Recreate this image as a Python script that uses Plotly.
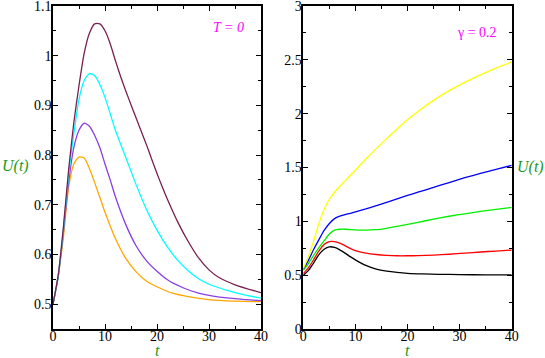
import plotly.graph_objects as go
from plotly.subplots import make_subplots

# ── Left panel (T = 0) ────────────────────────────────────────────────────────
t_orange = [0, 1, 2, 3, 4, 5, 6, 7, 8, 9, 10, 12, 14, 16, 18, 20, 23, 26, 30, 35, 40]
u_orange = [0.5, 0.555, 0.635, 0.735, 0.782, 0.796, 0.794, 0.773, 0.745, 0.715,
            0.685, 0.632, 0.592, 0.565, 0.546, 0.535, 0.522, 0.515, 0.509, 0.506, 0.505]

t_purple = [0, 1, 2, 3, 4, 5, 6, 7, 8, 9, 10, 11, 12, 14, 16, 18, 20, 22, 25, 28, 32, 36, 40]
u_purple = [0.5, 0.556, 0.645, 0.745, 0.815, 0.85, 0.864, 0.858, 0.84, 0.815, 0.782, 0.75,
            0.716, 0.66, 0.617, 0.587, 0.566, 0.549, 0.533, 0.522, 0.514, 0.51, 0.507]

t_cyan = [0, 1, 2, 3, 4, 5, 6, 7, 8, 9, 10, 12, 14, 16, 18, 20, 22, 24, 26, 28, 30, 34, 37, 40]
u_cyan = [0.5, 0.557, 0.65, 0.76, 0.842, 0.912, 0.95, 0.964, 0.96, 0.942, 0.916, 0.85,
          0.795, 0.74, 0.69, 0.649, 0.615, 0.588, 0.567, 0.551, 0.54, 0.526, 0.518, 0.512]

t_maroon = [0, 1, 2, 3, 4, 5, 6, 7, 8, 9, 10, 11, 12, 13, 14, 15, 16, 17, 18, 19, 20,
            21, 22, 24, 26, 28, 30, 32, 35, 40]
u_maroon = [0.5, 0.558, 0.655, 0.77, 0.865, 0.94, 1.005, 1.045, 1.064, 1.064, 1.05,
            1.024, 0.99, 0.958, 0.929, 0.901, 0.874, 0.847, 0.82, 0.791, 0.763, 0.736, 0.711,
            0.665, 0.626, 0.593, 0.569, 0.553, 0.539, 0.523]

# ── Right panel (gamma = 0.2) ─────────────────────────────────────────────────
t_black = [0, 1, 2, 3, 4, 5, 6, 7, 8, 9, 10, 12, 14, 16, 18, 20, 23, 26, 30, 35, 40]
u_black = [0.5, 0.545, 0.615, 0.69, 0.74, 0.763, 0.757, 0.735, 0.705, 0.672, 0.642, 0.59,
           0.556, 0.537, 0.525, 0.517, 0.511, 0.508, 0.505, 0.503, 0.502]

t_red = [0, 1, 2, 3, 4, 5, 6, 7, 8, 9, 10, 12, 14, 16, 18, 20, 22, 25, 28, 31, 34, 37, 40]
u_red = [0.515, 0.57, 0.645, 0.725, 0.785, 0.812, 0.812, 0.797, 0.774, 0.749, 0.728, 0.705,
         0.692, 0.684, 0.68, 0.68, 0.681, 0.686, 0.694, 0.705, 0.715, 0.724, 0.733]

t_green = [0, 1, 2, 3, 4, 5, 6, 7, 8, 10, 12, 14, 16, 18, 20, 22, 25, 28, 31, 34, 37, 40]
u_green = [0.545, 0.61, 0.685, 0.755, 0.82, 0.882, 0.918, 0.926, 0.926, 0.921, 0.918, 0.922,
           0.935, 0.953, 0.972, 0.99, 1.02, 1.047, 1.07, 1.092, 1.11, 1.129]

t_blue = [0, 1, 2, 3, 4, 5, 6, 7, 8, 9, 10, 12, 14, 16, 18, 20, 22, 25, 28, 31, 34, 37, 40]
u_blue = [0.555, 0.64, 0.74, 0.83, 0.915, 0.98, 1.025, 1.048, 1.062, 1.074, 1.088, 1.115,
          1.145, 1.175, 1.208, 1.24, 1.27, 1.315, 1.36, 1.405, 1.445, 1.483, 1.52]

t_yellow = [0, 1, 2, 3, 4, 5, 6, 7, 8, 9, 10, 12, 14, 16, 18, 20, 22, 25, 28, 31, 34, 37, 40]
u_yellow = [0.56, 0.675, 0.82, 0.98, 1.11, 1.205, 1.27, 1.325, 1.375, 1.425, 1.475, 1.578,
            1.675, 1.768, 1.858, 1.943, 2.02, 2.123, 2.213, 2.29, 2.36, 2.423, 2.48]

left_series = [(t_orange, u_orange, '#FFA500'), (t_purple, u_purple, '#8A3FE0'),
               (t_cyan, u_cyan, '#00FFFF'), (t_maroon, u_maroon, '#7A1F52')]
right_series = [(t_black, u_black, '#000000'), (t_red, u_red, '#FF0000'),
                (t_green, u_green, '#00EE00'), (t_blue, u_blue, '#0000FF'),
                (t_yellow, u_yellow, '#FFFF00')]

SERIF = 'Liberation Serif'
GREEN = '#1A9A1A'
MAGENTA = '#FF00FF'

W, H = 545, 358


def fx(px):
    return px / W


def fy(py):
    return 1 - py / H


fig = make_subplots(rows=1, cols=2)

for t, u, c in left_series:
    fig.add_trace(go.Scatter(x=t, y=u, mode='lines', hoverinfo='skip',
                             line=dict(color=c, width=1.3, shape='spline', smoothing=0.6),
                             showlegend=False), row=1, col=1)
for t, u, c in right_series:
    fig.add_trace(go.Scatter(x=t, y=u, mode='lines', hoverinfo='skip',
                             line=dict(color=c, width=1.3, shape='spline', smoothing=0.6),
                             showlegend=False), row=1, col=2)

axis_style = dict(
    showline=True, linecolor='black', linewidth=1.6, mirror='ticks',
    ticks='inside', ticklen=5, tickwidth=1, tickcolor='black',
    showgrid=False, zeroline=False, automargin=False,
    ticklabeloverflow='allow',
    tickfont=dict(family=SERIF, size=14, color='black'),
)

fig.update_xaxes(range=[0, 40], dtick=10, tick0=0, ticklabelstandoff=-7,
                 minor=dict(dtick=5, ticks='inside', ticklen=3, tickcolor='black'),
                 **axis_style)
fig.update_xaxes(domain=[fx(53), fx(261)], row=1, col=1)
fig.update_xaxes(domain=[fx(303.3), fx(511.7)], row=1, col=2)

fig.update_yaxes(domain=[fy(329), fy(5.7)], ticklabelstandoff=-3, **axis_style)
fig.update_yaxes(range=[0.45, 1.1005], dtick=0.1, tick0=0.5,
                 minor=dict(dtick=0.05, ticks='inside', ticklen=3, tickcolor='black'),
                 row=1, col=1)
fig.update_yaxes(range=[0, 3.002], dtick=0.5, tick0=0,
                 minor=dict(dtick=0.25, ticks='inside', ticklen=3, tickcolor='black'),
                 row=1, col=2)

label_font = dict(family=SERIF, size=16, color=GREEN)
annotations = [
    dict(x=fx(15), y=fy(166), text='<i>U(t)</i>', font=label_font),
    dict(x=fx(530), y=fy(167), text='<i>U(t)</i>', font=label_font),
    dict(x=fx(157), y=fy(350), text='<i>t</i>', font=label_font),
    dict(x=fx(407), y=fy(350), text='<i>t</i>', font=label_font),
    dict(x=fx(228), y=fy(27), text='<i>T = 0</i>',
         font=dict(family=SERIF, size=14, color=MAGENTA)),
    dict(x=fx(477), y=fy(32), text='γ = 0.2',
         font=dict(family=SERIF, size=14, color=MAGENTA)),
]
for a in annotations:
    fig.add_annotation(xref='paper', yref='paper', showarrow=False,
                       xanchor='center', yanchor='middle', **a)

fig.update_layout(
    width=W, height=H,
    margin=dict(l=0, r=0, t=0, b=0),
    paper_bgcolor='white', plot_bgcolor='white',
    hovermode=False,
)

# drop the default 8px page margin so the figure sits at the window corner
fig.write_html("out.html", config={'displayModeBar': False},
               post_script="document.body.style.margin = '0';")
